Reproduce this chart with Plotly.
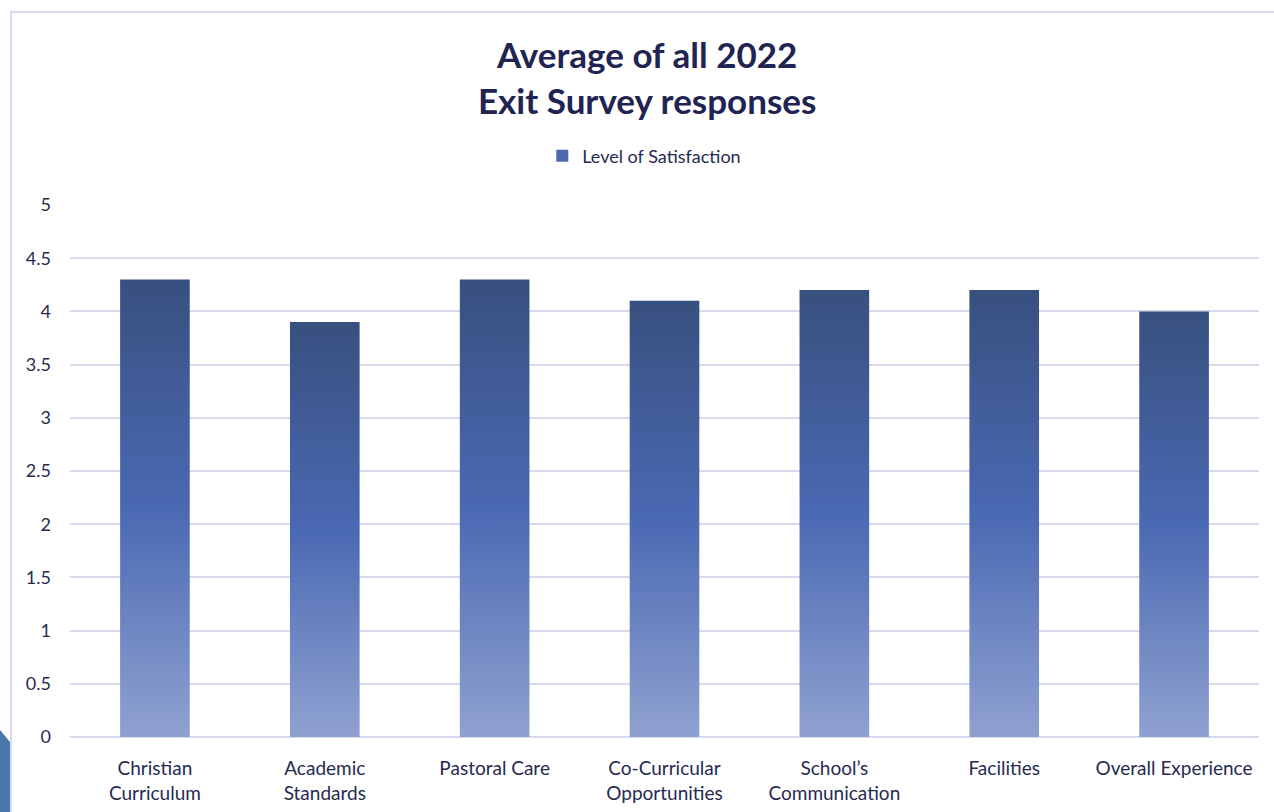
import plotly.graph_objects as go

# Survey categories and their average satisfaction scores
categories = [
    "Christian<br>Curriculum",
    "Academic<br>Standards",
    "Pastoral Care",
    "Co-Curricular<br>Opportunities",
    "School\u2019s<br>Communication",
    "Facilities",
    "Overall Experience",
]
scores = [4.3, 3.9, 4.3, 4.1, 4.2, 4.2, 4.0]
y_ticks = [0, 0.5, 1, 1.5, 2, 2.5, 3, 3.5, 4, 4.5, 5]
y_tick_text = ["0", "0.5", "1", "1.5", "2", "2.5", "3", "3.5", "4", "4.5", "5"]
series_name = "Level of Satisfaction"

FONT = "Lato, 'Open Sans', sans-serif"
TEXT = "#262a50"
GRID = "#d9d9ee"
HALF = 0.205  # half bar width in category units

gradient = dict(
    type="vertical",
    colorscale=[[0.0, "#8fa1d0"], [0.5, "#4a69b3"], [1.0, "#38507f"]],
)

fig = go.Figure()
for i, (cat, v) in enumerate(zip(categories, scores)):
    fig.add_trace(go.Scatter(
        x=[i - HALF, i - HALF, i + HALF, i + HALF, i - HALF],
        y=[0, v, v, 0, 0],
        mode="lines",
        line=dict(width=0, color="#4a69b3"),
        fill="toself",
        fillgradient=gradient,
        name=series_name,
        showlegend=False,
        hoverinfo="text",
        text=f"{cat.replace('<br>', ' ')}: {v}",
    ))

# legend entry with a square swatch for the series
fig.add_trace(go.Bar(
    x=[None], y=[None],
    name=series_name,
    marker=dict(color="#4f68ad", line=dict(width=0)),
    showlegend=True,
    hoverinfo="skip",
))

fig.update_layout(
    width=1274,
    height=812,
    margin=dict(l=70, r=15, t=205, b=75, autoexpand=False),
    paper_bgcolor="white",
    plot_bgcolor="white",
    font=dict(family=FONT, color=TEXT, size=16),
    title=dict(
        text="<b>Average of all 2022<br>Exit Survey responses</b>",
        x=0.508, xanchor="center",
        y=1 - 68 / 812, yanchor="middle",
        yref="container",
        font=dict(family=FONT, size=35, color="#1f2452"),
    ),
    legend=dict(
        orientation="h",
        x=0.483, xanchor="center",
        y=1.092, yanchor="middle",
        font=dict(size=18, color=TEXT),
        itemwidth=30,
        itemsizing="constant",
    ),
    xaxis=dict(
        range=[-0.5, len(categories) - 0.5],
        tickvals=list(range(len(categories))),
        ticktext=categories,
        showgrid=False,
        zeroline=False,
        showline=False,
        ticks="",
        tickfont=dict(size=19, color=TEXT),
        ticklabelstandoff=18,
        automargin=False,
        fixedrange=True,
    ),
    yaxis=dict(
        range=[0, 5],
        tickvals=y_ticks,
        ticktext=y_tick_text,
        showgrid=True,
        gridcolor=GRID,
        gridwidth=2,
        zeroline=True,
        zerolinecolor=GRID,
        zerolinewidth=2,
        showline=False,
        ticks="",
        tickfont=dict(size=18, color=TEXT),
        ticklabelstandoff=18,
        automargin=False,
        fixedrange=True,
    ),
    bargap=0.59,
    shapes=[
        # chart frame
        dict(
            type="rect", xref="paper", yref="paper",
            x0=(11 - 70) / 1189, x1=1.2,
            y0=-0.5, y1=(737 - 12) / 532,
            line=dict(color=GRID, width=2),
            fillcolor="rgba(0,0,0,0)",
            layer="below",
        ),
        # slide accent in the lower-left corner
        dict(
            type="path", xref="paper", yref="paper",
            path=(
                f"M {(0 - 70) / 1189} {(737 - 730) / 532} "
                f"L {(10 - 70) / 1189} {(737 - 742) / 532} "
                f"L {(10 - 70) / 1189} {(737 - 830) / 532} "
                f"L {(0 - 70) / 1189} {(737 - 830) / 532} Z"
            ),
            line=dict(width=0),
            fillcolor="#4a78aa",
        ),
    ],
)

fig.write_html("out.html")
